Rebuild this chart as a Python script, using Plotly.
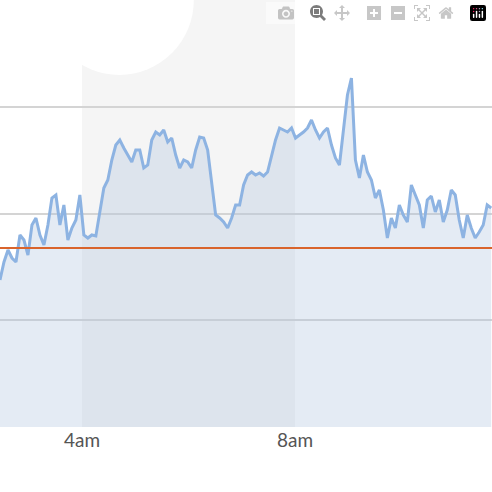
import pandas as pd
import plotly.graph_objects as go

# readings sampled every 4.5 minutes from about 02:27
start_time = "2024-01-01 02:27:36"
levels = [147, 165, 177, 169, 165, 192, 187, 172, 202, 209, 192, 182, 202, 229, 232, 202,
          222, 187, 199, 207, 232, 192, 189, 192, 191, 217, 239, 247, 267, 282, 287, 279,
          272, 265, 277, 277, 259, 262, 287, 295, 292, 297, 285, 289, 272, 259, 267, 265,
          259, 277, 290, 289, 277, 242, 212, 209, 205, 199, 209, 222, 222, 242, 252, 255,
          252, 254, 251, 255, 272, 287, 299, 297, 295, 299, 289, 292, 295, 299, 307, 297,
          289, 295, 299, 282, 269, 262, 297, 332, 349, 267, 249, 272, 255, 247, 229, 237,
          217, 189, 209, 199, 222, 212, 205, 242, 232, 222, 199, 227, 231, 215, 227, 205,
          217, 237, 232, 207, 189, 212, 199, 189, 195, 202, 222, 219]
threshold = 179
tick_times = ["2024-01-01 04:00", "2024-01-01 08:00", "2024-01-01 12:00"]
tick_text = ["4am", "8am", "12pm"]

times = pd.date_range(start_time, periods=len(levels), freq="270s")

fig = go.Figure()
fig.add_trace(go.Scatter(
    x=times, y=levels, mode="lines", fill="tozeroy",
    line=dict(color="#8db3e2", width=3),
    fillcolor="rgba(170,192,220,0.32)",
))

# night band and moon-ish circle
fig.add_vrect(x0="2024-01-01 04:00", x1="2024-01-01 08:00",
              fillcolor="#f5f5f5", line_width=0, layer="below")
fig.add_shape(type="circle", xref="x", yref="y",
              x0="2024-01-01 03:18", x1="2024-01-01 06:06", y0=352, y1=502,
              fillcolor="white", line_width=0, layer="below")
fig.add_hline(y=threshold, line=dict(color="#d9642c", width=2))

fig.update_layout(
    width=492, height=492,
    margin=dict(l=0, r=0, t=0, b=65),
    paper_bgcolor="white", plot_bgcolor="white",
    showlegend=False,
    font=dict(family="Lato, sans-serif", size=19, color="#555"),
)
fig.update_xaxes(
    range=["2024-01-01 02:27:36", "2024-01-01 11:42:00"],
    tickvals=tick_times, ticktext=tick_text,
    showgrid=False, zeroline=False, showline=False,
)
fig.update_yaxes(
    range=[0, 427], tickvals=[0, 107, 213, 320], showticklabels=False,
    gridcolor="#d4d4d4", gridwidth=1.5, zeroline=False,
)

fig.write_html("out.html", post_script="document.body.style.margin='0';")
